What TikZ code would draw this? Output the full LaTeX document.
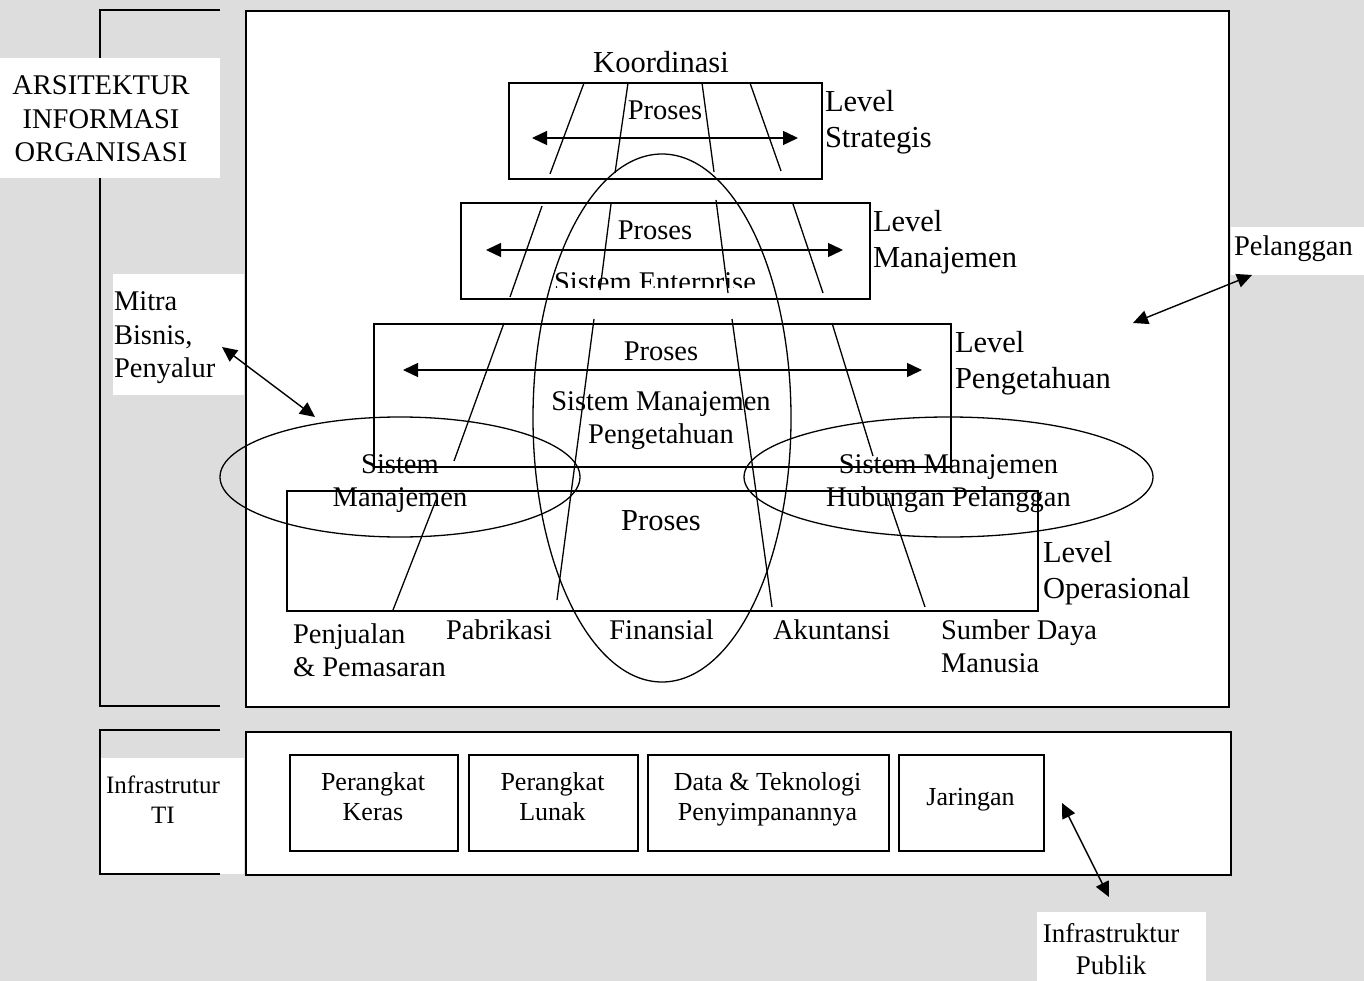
\documentclass[tikz,border=0pt]{standalone}
\usepackage{fontspec}
\setmainfont{Liberation Serif}
\usetikzlibrary{arrows.meta}
\definecolor{bggray}{RGB}{221,221,221}
\newcommand{\mlines}[2]{\begin{tabular}[t]{@{}#1@{}}#2\end{tabular}}
\tikzset{
  frame/.style={draw, line width=1.6pt},
  fline/.style={line width=1.3pt},
  darrow/.style={line width=1.4pt, {Triangle[length=15pt,width=14pt]}-{Triangle[length=15pt,width=14pt]}},
  lbl/.style={inner sep=0pt, outer sep=0pt},
  fbig/.style={font=\fontsize{30.5}{36}\selectfont},
  fmid/.style={font=\fontsize{28.5}{33.3}\selectfont},
  fsmall/.style={font=\fontsize{26}{30}\selectfont},
  levelbox/.style={frame, anchor=north west, inner sep=0pt},
}
\begin{document}
\begin{tikzpicture}[x=1pt,y=-1pt]
\fill[bggray] (0,0) rectangle (1364,981);
\useasboundingbox (0,0) rectangle (1364,981);

% white label backgrounds
\fill[white] (113,274) rectangle (244,395);
\fill[white] (101,758) rectangle (244,874);
\fill[white] (1231,227) rectangle (1364,275);
\fill[white] (1037,912) rectangle (1206,981);

% left brackets
\draw[frame] (220,10) -- (100,10) -- (100,706) -- (220,706);
\draw[frame] (220,730) -- (100,730) -- (100,874) -- (220,874);
\fill[white] (0,58) rectangle (220,178);

% main frames
\node[levelbox, fill=white, minimum width=983pt, minimum height=696pt] (arch) at (245,10) {};
\node[levelbox, fill=white, minimum width=985pt, minimum height=143pt] (infra) at (245,731) {};

% level boxes
\node[levelbox, minimum width=313pt, minimum height=96pt] (strat) at (508,82) {};
\node[levelbox, minimum width=409pt, minimum height=96pt] (manaj) at (460,202) {};
\node[levelbox, minimum width=577pt, minimum height=143pt] (penget) at (373,323) {};
\node[levelbox, minimum width=751pt, minimum height=120pt] (opera) at (286,490) {};

% function lines
\draw[fline] (584,83) -- (550,174);
\draw[fline] (628,83) -- (615,173);
\draw[fline] (702,83) -- (714,172);
\draw[fline] (750,83) -- (781,171);
\draw[fline] (542,206) -- (510,297);
\draw[fline] (611,204) -- (600,290);
\draw[fline] (716,200) -- (728,293);
\draw[fline] (793,204) -- (823,293);
\draw[fline] (504,323) -- (454,461);
\draw[fline] (436,500) -- (393,610);
\draw[fline] (594,319) -- (557,600);
\draw[fline] (732,319) -- (772,607);
\draw[fline] (832,323) -- (873,456);
\draw[fline] (888,498) -- (925,607);

% ellipses
\draw[fline] (662,418) ellipse [x radius=129pt, y radius=264pt];
\draw[fline] (400,477) ellipse [x radius=180pt, y radius=60pt];
\draw[fline] (948.5,477) ellipse [x radius=204.5pt, y radius=60pt];

% process arrows
\coordinate (sa1) at (532,138); \coordinate (sa2) at (798,138);
\coordinate (ma1) at (486,250); \coordinate (ma2) at (843,250);
\coordinate (pa1) at (403,370); \coordinate (pa2) at (922,370);
\draw[darrow] (sa1) -- (sa2);
\draw[darrow] (ma1) -- (ma2);
\draw[darrow] (pa1) -- (pa2);

% texts
\node[lbl, fbig, anchor=base] (koord) at (661,73) {Koordinasi};
\node[lbl, fmid, anchor=base] (prS) at (665,120) {Proses};
\node[lbl, fmid, anchor=base] (prM) at (655,240) {Proses};
\node[lbl, fmid, anchor=base] (prP) at (661,360) {Proses};
\node[lbl, fbig, anchor=base] (prO) at (661,530) {Proses};
\node[lbl, fbig, anchor=base west] (lvS) at (825,112) {\mlines{l}{Level\\Strategis}};
\node[lbl, fbig, anchor=base west] (lvM) at (873,232) {\mlines{l}{Level\\Manajemen}};
\node[lbl, fbig, anchor=base west] (lvP) at (955,352) {\mlines{l}{Level\\Pengetahuan}};
\node[lbl, fbig, anchor=base west] (lvO) at (1043,562) {\mlines{l}{Level\\Operasional}};
\begin{scope}
\clip (530,255) rectangle (780,287.5);
\node[lbl, fmid, anchor=base] (se) at (655,291) {Sistem Enterprise};
\end{scope}
\node[lbl, fmid, anchor=base] (smp) at (661,410) {\mlines{c}{Sistem Manajemen\\Pengetahuan}};
\node[lbl, fmid, anchor=base] (scm) at (400,473) {\mlines{c}{Sistem\\Manajemen}};
\node[lbl, fmid, anchor=base] (crm) at (948.5,473) {\mlines{c}{Sistem Manajemen\\Hubungan Pelanggan}};
\node[lbl, fmid, anchor=base west] (penj) at (293,643) {\mlines{l}{Penjualan\\\& Pemasaran}};
\node[lbl, fmid, anchor=base west] (pabr) at (446,639) {Pabrikasi};
\node[lbl, fmid, anchor=base] (fin) at (661.5,639) {Finansial};
\node[lbl, fmid, anchor=base west] (akun) at (773,639) {Akuntansi};
\node[lbl, fmid, anchor=base west] (sdm) at (941,639) {\mlines{l}{Sumber Daya\\Manusia}};

\node[lbl, fmid, anchor=base] (aio) at (101,95) {\mlines{c}{ARSITEKTUR\\INFORMASI\\ORGANISASI}};
\node[lbl, fmid, anchor=base west] (mitra) at (114,311) {\mlines{l}{Mitra\\Bisnis,\\Penyalur}};
\node[lbl, fmid, anchor=base west] (pel) at (1234,256) {Pelanggan};

% outer arrows
\coordinate (mitraA) at (222,347); \coordinate (mitraB) at (315,417);
\coordinate (pelA) at (1252,275); \coordinate (pelB) at (1133,323);
\coordinate (pubA) at (1062,803); \coordinate (pubB) at (1109,897);
\draw[darrow] (mitraA) -- (mitraB);
\draw[darrow] (pelA) -- (pelB);
\draw[darrow] (pubA) -- (pubB);

% infrastructure
\node[levelbox, minimum width=168pt, minimum height=96pt] (hw) at (289,754) {};
\node[levelbox, minimum width=169pt, minimum height=96pt] (sw) at (468,754) {};
\node[levelbox, minimum width=241pt, minimum height=96pt] (data) at (647,754) {};
\node[levelbox, minimum width=145pt, minimum height=96pt] (net) at (898,754) {};
\node[lbl, fsmall, anchor=base] (hwt) at (373,790) {\mlines{c}{Perangkat\\Keras}};
\node[lbl, fsmall, anchor=base] (swt) at (552.5,790) {\mlines{c}{Perangkat\\Lunak}};
\node[lbl, fsmall, anchor=base] (datat) at (767.5,790) {\mlines{c}{Data \& Teknologi\\Penyimpanannya}};
\node[lbl, fsmall, anchor=base] (nett) at (970.5,805) {Jaringan};
\node[lbl, font=\fontsize{25}{30}\selectfont, anchor=base] (iti) at (163,793) {\mlines{c}{Infrastrutur\\TI}};
\node[lbl, font=\fontsize{27}{32}\selectfont, anchor=base] (pub) at (1111,942) {\mlines{c}{Infrastruktur\\Publik}};
\end{tikzpicture}
\end{document}
